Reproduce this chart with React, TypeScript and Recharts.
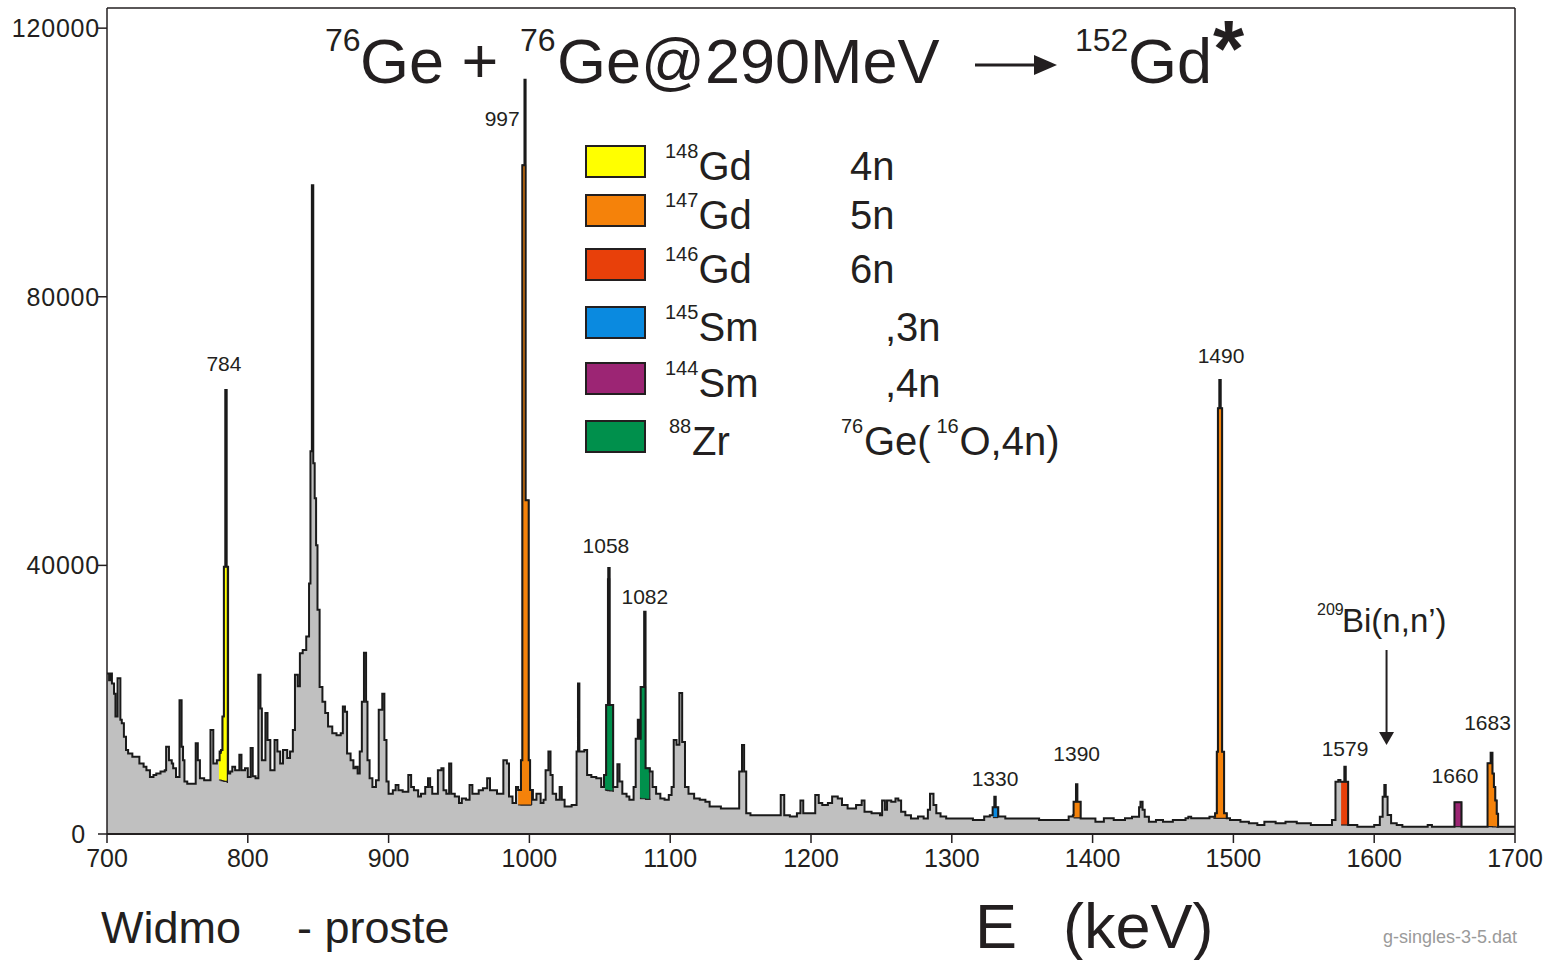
import React from "react";
import {
  ComposedChart,
  Area,
  Line,
  XAxis,
  YAxis,
  ReferenceLine,
  ReferenceDot,
} from "recharts";

// gamma singles spectrum, step points: [energy keV, counts] (value holds until next point)
const spectrum: [number, number][] = [
  [700, 23900], [701.5, 22900], [702.5, 23900], [703.5, 22400], [705, 20900],
  [706, 17500], [707.5, 23200], [709.5, 17000], [710.5, 16500], [712, 14500],
  [713.5, 12500], [715, 12000], [718, 11500], [723, 10500], [726, 10000],
  [728, 9500], [730.5, 8500], [733, 8800], [735, 9000], [738, 9300],
  [741, 9500], [742, 13000], [744, 11000], [746, 10500], [747, 9800],
  [749, 8500], [751.5, 19900], [753, 13000], [754, 11000], [755, 7800],
  [757, 7500], [763, 13500], [764.5, 11000], [766, 8300], [769, 8000],
  [773.5, 15500], [775.5, 10500], [778, 11000], [780, 12300], [781, 12500],
  [782, 17500], [783, 39800], [784, 66100], [785, 39800], [786, 9000],
  [787.5, 9300], [789, 10000], [791, 9500], [794, 11800], [795.5, 9500],
  [798, 9800], [800, 8500], [802, 12800], [803.5, 8600], [805.5, 8300],
  [807.5, 23700], [809, 18700], [810, 11000], [812.5, 18000], [814, 14000],
  [816, 9500], [819, 14000], [821, 12300], [823, 10500], [825, 12500],
  [828, 11300], [830, 12300], [832, 15500], [833.5, 23700], [835.5, 22000],
  [837, 26900], [839, 27400], [841.5, 29400], [843.5, 37300], [844.5, 57000],
  [845.5, 96600], [846.5, 55200], [847.5, 50000], [848.5, 43000], [849.5, 33400],
  [851, 21900], [853, 19700], [855, 18000], [857, 16000], [860, 15000],
  [863, 14700], [866, 15000], [867.5, 19000], [869, 18200], [870.5, 12000],
  [873, 11000], [875, 9800], [876.5, 10000], [878, 9000], [879.5, 12300],
  [881, 19700], [882.5, 27000], [884, 19700], [885, 11000], [886.5, 8300],
  [888.5, 7000], [891, 8000], [893, 18500], [895.5, 20900], [897, 14000],
  [898.5, 7800], [900, 6000], [903, 6500], [905, 7300], [907, 6500],
  [910, 6300], [914, 8800], [916, 7000], [918, 6500], [921, 5600],
  [923, 6000], [926, 7000], [928, 8300], [929.5, 7000], [931, 6000],
  [935, 9500], [937.5, 9800], [939, 6500], [941, 6000], [943, 10500],
  [944.5, 6000], [947, 5600], [950, 4600], [952, 5300], [955, 5100],
  [957.5, 7300], [959.5, 6000], [964, 6500], [967, 6800], [970, 8300],
  [972, 6500], [977, 6000], [981.5, 11000], [984, 10500], [985.5, 5600],
  [988, 4600], [990.5, 7000], [992, 6550], [994, 11000], [995, 99600],
  [996.5, 112300], [997.3, 49700], [999.5, 11000], [1000.5, 6550], [1002.5, 5100],
  [1005, 6000], [1008, 4600], [1010, 5100], [1011.5, 9500], [1013.5, 12300],
  [1015, 8800], [1016.5, 6000], [1019, 5100], [1021.5, 7000], [1023, 5100],
  [1025, 4100], [1030, 4300], [1033.5, 12300], [1034.5, 22400], [1035.5, 12300],
  [1039, 12500], [1041, 8800], [1044, 8500], [1047.5, 8300], [1051, 7000],
  [1053, 8800], [1054.5, 19200], [1056, 39600], [1057, 19200], [1059.5, 7000],
  [1062.5, 10400], [1064, 7800], [1066, 6000], [1069, 5600], [1071, 5100],
  [1074, 7000], [1075.5, 14200], [1077, 17000], [1078, 14200], [1079, 21900],
  [1081.5, 33100], [1082.5, 9800], [1085.5, 9300], [1087.5, 7000], [1090, 6000],
  [1093, 5300], [1096, 5100], [1099, 5800], [1101, 7000], [1102.5, 14000],
  [1104.5, 13300], [1106.5, 21000], [1108.5, 13700], [1110.5, 7000], [1113, 6000],
  [1117, 5300], [1121, 5100], [1125, 4800], [1128, 4100], [1136, 3800],
  [1149, 9300], [1151, 13250], [1152.5, 9300], [1154, 3100], [1157, 2800],
  [1178.5, 5800], [1181, 2800], [1185, 2600], [1190, 3100], [1192.5, 5000],
  [1194.5, 3100], [1203, 5800], [1205.5, 4600], [1208, 4300], [1212, 4600],
  [1215, 5600], [1219, 5300], [1222, 4300], [1226, 3800], [1232, 4300],
  [1236, 5000], [1238, 3300], [1243, 3100], [1249, 2800], [1250.5, 5000],
  [1252.5, 3600], [1254, 5000], [1257, 4800], [1260, 5300], [1262, 5000],
  [1264, 3300], [1267, 2800], [1271, 2300], [1276, 2600], [1280, 2300],
  [1283, 3600], [1284.5, 6000], [1287, 4300], [1289, 3100], [1292, 2600],
  [1296, 2300], [1315, 2100], [1323, 2600], [1327, 2800], [1329, 3970],
  [1330.2, 5560], [1331.2, 3970], [1333, 2600], [1338, 2300], [1362, 2100],
  [1383, 2600], [1386, 2800], [1386.5, 4800], [1388.2, 7400], [1389.2, 4800],
  [1391.5, 2300], [1402, 1840], [1408, 2330], [1415, 2080], [1423, 2330],
  [1428, 2580], [1433, 4000], [1434, 4800], [1435.5, 3600], [1437, 2580],
  [1440, 1840], [1445, 2080], [1450, 1840], [1457, 2080], [1466, 2330],
  [1468, 2580], [1470, 2330], [1483, 2580], [1487, 3080], [1488.2, 12260],
  [1489, 63400], [1490, 67600], [1491, 63400], [1492, 12260], [1493.4, 3080],
  [1495.3, 2330], [1497.6, 2080], [1505, 1840], [1511, 1590], [1517, 1340],
  [1522, 1840], [1530, 1590], [1537, 1840], [1545, 1590], [1555, 1340],
  [1570, 2080], [1572.5, 7790], [1574.5, 8040], [1576, 7790], [1578.8, 10030],
  [1579.8, 7790], [1581.5, 1340], [1588, 1090], [1600, 1340], [1604, 2580],
  [1606, 5560], [1607.2, 7300], [1608.2, 5560], [1609.5, 2830], [1612, 1590],
  [1616, 1340], [1620, 1090], [1638, 1340], [1641, 1090], [1657, 4710],
  [1662, 1090], [1680.5, 10520], [1682.7, 12110], [1684, 9000], [1685, 7000],
  [1686, 5000], [1687, 3000], [1688, 1090], [1700, 1090],
];

// coloured peak areas: [energy, background, top]
const gd148Peak: [number, number, number][] = [
  [779.5, 8040, 12000], [781, 7950, 12500], [782, 7900, 17500], [783, 7850, 39800], [785.5, 7600, 7600],
];
const gd147Peaks: [number, number, number][][] = [
  [[992, 4320, 6550], [994, 4300, 11000], [995, 4300, 99600], [997.3, 4300, 49700], [999.5, 4300, 11000], [1000.5, 4300, 6550], [1001.6, 4300, 4300]],
  [[1386.5, 2400, 4810], [1391.5, 2330, 2330]],
  [[1485.8, 2330, 2580], [1487, 2330, 3080], [1488.2, 2330, 12260], [1489, 2330, 63400], [1492, 2330, 12260], [1493.4, 2330, 3080], [1495.3, 2330, 2330]],
  [[1680.5, 1100, 10520], [1684, 1060, 9000], [1685, 1050, 7000], [1686, 1040, 5000], [1687, 1030, 3000], [1688.2, 1000, 1000]],
];
const gd146Peak: [number, number, number][] = [[1576.5, 1340, 7790], [1581.5, 1340, 1340]];
const sm145Peak: [number, number, number][] = [[1329.2, 2450, 3970], [1332.8, 2450, 2450]];
const sm144Peak: [number, number, number][] = [[1657, 1090, 4710], [1662, 1090, 1090]];
const zr88Peaks: [number, number, number][][] = [
  [[1053.6, 6550, 8800], [1054.5, 6500, 19200], [1055.5, 6450, 38000], [1057, 6400, 19200], [1059.5, 6300, 6300]],
  [[1078.5, 5300, 14200], [1079, 5250, 21900], [1082.5, 5150, 9800], [1085.5, 5050, 5050]],
];

const xTicks = [700, 800, 900, 1000, 1100, 1200, 1300, 1400, 1500, 1600, 1700];
const yTicks = [0, 40000, 80000, 120000];

const peakLabels = [
  { text: "784", e: 784.5, top: 66100 },
  { text: "997", e: 997, top: 112300 },
  { text: "1058", e: 1056.5, top: 39600 },
  { text: "1082", e: 1082, top: 33100 },
  { text: "1330", e: 1330.7, top: 5560 },
  { text: "1390", e: 1388.7, top: 7400 },
  { text: "1490", e: 1490.5, top: 67600 },
  { text: "1579", e: 1579.3, top: 10030 },
  { text: "1660", e: 1659.5, top: 4710 },
  { text: "1683", e: 1683.3, top: 12110 },
];

const legendRows = [
  { mass: "148", el: "Gd", channel: "4n" },
  { mass: "147", el: "Gd", channel: "5n" },
  { mass: "146", el: "Gd", channel: "6n" },
  { mass: "145", el: "Sm", channel: ",3n" },
  { mass: "144", el: "Sm", channel: ",4n" },
  { mass: "88", el: "Zr", channel: "" },
];

const COLORS = ["#FFFF00", "#F5820A", "#E8400A", "#0A8AE0", "#9C2574", "#00904C"];
const FONT = "'Liberation Sans', Arial, Helvetica, sans-serif";
const INK = "#231f20";

// label nudges in px: [dx, dy] of the label centre from the peak top
const labelNudge: Record<string, [number, number]> = {
  "784": [-2, -27], "997": [-23, 39], "1058": [-3, -23], "1082": [0, -15],
  "1330": [0, -18], "1390": [0, -31], "1490": [1, -25], "1579": [0, -18],
  "1660": [-3, -27], "1683": [-4, -30],
};

const specData = spectrum.map(([e, c]) => ({ e, c }));
const toRange = (pts: [number, number, number][]) => pts.map(([e, lo, hi]) => ({ e, r: [lo, hi] }));

const peakSeries: { color: string; pts: [number, number, number][] }[] = [
  { color: COLORS[0], pts: gd148Peak },
  ...gd147Peaks.map((pts) => ({ color: COLORS[1], pts })),
  { color: COLORS[2], pts: gd146Peak },
  { color: COLORS[3], pts: sm145Peak },
  { color: COLORS[4], pts: sm144Peak },
  ...zr88Peaks.map((pts) => ({ color: COLORS[5], pts })),
];

const YTick = (props: any) => {
  const { x, y, payload } = props;
  // the zero label sits a little further left, clear of the 700 label
  const shift = payload.value === 0 ? -10 : 4;
  return (
    <text x={x + shift} y={y} dy="0.36em" textAnchor="end" fontSize={25} fill={INK} fontFamily={FONT} letterSpacing={0.8}>
      {payload.value}
    </text>
  );
};

const XTick = (props: any) => {
  const { x, y, payload } = props;
  return (
    <text x={x} y={y} dy="0.72em" textAnchor="middle" fontSize={25} fill={INK} fontFamily={FONT}>
      {payload.value}
    </text>
  );
};

function Overlay() {
  const rowBase = [180, 229, 283, 341, 397, 455];
  return (
    <svg width={1555} height={960} style={{ position: "absolute", left: 0, top: 0, pointerEvents: "none" }}>
      <g fontFamily={FONT} fill={INK}>
        {/* title */}
        <text>
          <tspan fontSize={32} x={325} y={51}>76</tspan>
          <tspan fontSize={63} x={360} y={83}>Ge +</tspan>
          <tspan fontSize={32} x={520} y={51}>76</tspan>
          <tspan fontSize={63} x={557} y={83}>Ge@290MeV</tspan>
        </text>
        <line x1={975} y1={65} x2={1040} y2={65} stroke={INK} strokeWidth={3} />
        <polygon points="1034,55 1057,65 1034,75" fill={INK} />
        <text>
          <tspan fontSize={32} x={1075} y={51}>152</tspan>
          <tspan fontSize={63} x={1128} y={83}>Gd</tspan>
          <tspan fontSize={80} fontWeight="bold" x={1213} y={76}>*</tspan>
        </text>

        {/* legend */}
        {legendRows.map((r, i) => (
          <g key={r.mass}>
            <rect x={586} y={rowBase[i] - 34} width={59} height={31} fill={COLORS[i]} stroke={INK} strokeWidth={2} />
            <text>
              <tspan fontSize={20} x={i === 5 ? 669 : 665} y={rowBase[i] - 22}>{r.mass}</tspan>
              <tspan fontSize={40} x={i === 5 ? 692 : 698.5} y={rowBase[i]}>{r.el}</tspan>
            </text>
            {r.channel && (
              <text fontSize={40} x={r.channel.startsWith(",") ? 885 : 850} y={rowBase[i]}>{r.channel}</text>
            )}
          </g>
        ))}
        <text>
          <tspan fontSize={20} x={841} y={rowBase[5] - 22}>76</tspan>
          <tspan fontSize={40} x={864} y={rowBase[5]}>Ge(</tspan>
          <tspan fontSize={20} x={936.5} y={rowBase[5] - 22}>16</tspan>
          <tspan fontSize={40} x={959.5} y={rowBase[5]}>O,4n)</tspan>
        </text>

        {/* bottom captions */}
        <text fontSize={45} x={101} y={943}>Widmo</text>
        <text fontSize={45} x={297} y={943}>- proste</text>
        <text fontSize={63} x={975} y={948}>E</text>
        <text fontSize={63} x={1063} y={948}>(keV)</text>
        <text fontSize={18} x={1383} y={943} fill="#9a9a9a">g-singles-3-5.dat</text>
      </g>
    </svg>
  );
}

export default function App() {
  return (
    <div style={{ position: "absolute", left: 0, top: 0, width: 1555, height: 960, background: "#fff" }}>
      <ComposedChart
        width={1555}
        height={960}
        data={specData}
        margin={{ top: 8, right: 40, bottom: 86, left: 7 }}
      >
        <XAxis
          dataKey="e"
          type="number"
          domain={[700, 1700]}
          ticks={xTicks}
          allowDataOverflow
          height={40}
          tickSize={9}
          tickMargin={6}
          tick={<XTick />}
          axisLine={{ stroke: INK, strokeWidth: 2 }}
          tickLine={{ stroke: INK, strokeWidth: 1.5 }}
        />
        <YAxis
          type="number"
          domain={[0, 123000]}
          ticks={yTicks}
          allowDataOverflow
          width={100}
          tickSize={9}
          tickMargin={2}
          tick={<YTick />}
          axisLine={{ stroke: INK, strokeWidth: 1.5 }}
          tickLine={{ stroke: INK, strokeWidth: 1.5 }}
        />
        <Area
          dataKey="c"
          type="stepAfter"
          fill="#c0c0c0"
          fillOpacity={1}
          stroke="none"
          isAnimationActive={false}
          dot={false}
          activeDot={false}
        />
        {peakSeries.map((s, i) => (
          <Area
            key={i}
            data={toRange(s.pts)}
            dataKey="r"
            type="stepAfter"
            fill={s.color}
            fillOpacity={1}
            stroke={INK}
            strokeWidth={1.2}
            isAnimationActive={false}
            dot={false}
            activeDot={false}
          />
        ))}
        <Line
          dataKey="c"
          type="stepAfter"
          stroke="#1a1a1a"
          strokeWidth={2}
          dot={false}
          activeDot={false}
          isAnimationActive={false}
        />
        <ReferenceLine y={123000} stroke={INK} strokeWidth={1.5} />
        <ReferenceLine x={1700} stroke={INK} strokeWidth={1.5} />
        {peakLabels.map((p) => {
          const [dx, dy] = labelNudge[p.text] || [0, -25];
          return (
            <ReferenceDot
              key={p.text}
              x={p.e}
              y={p.top}
              r={0}
              shape={(sp: any) => (
                <text
                  x={sp.cx + dx}
                  y={sp.cy + dy}
                  dy="0.36em"
                  textAnchor="middle"
                  fontSize={21}
                  fill={INK}
                  fontFamily={FONT}
                >
                  {p.text}
                </text>
              )}
            />
          );
        })}
        <ReferenceDot
          x={1607.7}
          y={7300}
          r={0}
          shape={(sp: any) => (
            <g fontFamily={FONT} fill={INK}>
              <line x1={sp.cx + 1.5} y1={sp.cy - 135} x2={sp.cx + 1.5} y2={sp.cy - 50} stroke={INK} strokeWidth={2} />
              <polygon
                points={`${sp.cx - 6},${sp.cy - 53} ${sp.cx + 9},${sp.cy - 53} ${sp.cx + 1.5},${sp.cy - 40}`}
                fill={INK}
              />
              <text>
                <tspan x={sp.cx - 68} y={sp.cy - 170} fontSize={16}>209</tspan>
                <tspan x={sp.cx - 43} y={sp.cy - 153} fontSize={33}>Bi(n,n’)</tspan>
              </text>
            </g>
          )}
        />
      </ComposedChart>
      <Overlay />
    </div>
  );
}
